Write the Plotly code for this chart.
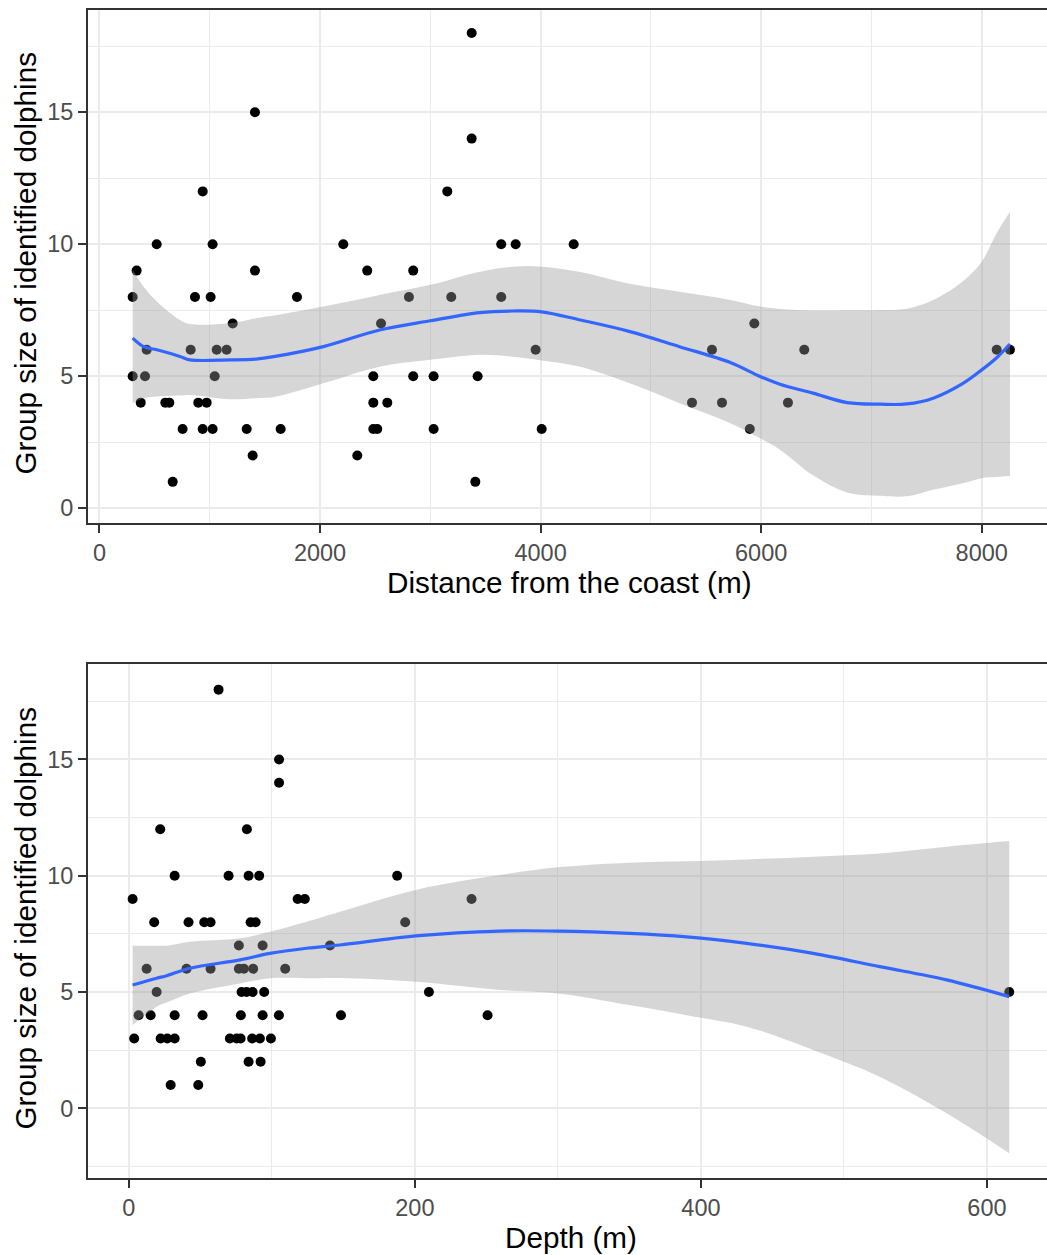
import plotly.graph_objects as go

# ---------------- data ----------------
# Panel 1: distance from the coast (m) vs group size
dist_m = [3375, 1410, 3375, 936, 3154,
          519, 1026, 2211, 3643, 3774, 4300,
          337, 1410, 2428, 2845,
          301, 866, 1008, 1791, 2806, 3190, 3643,
          1208, 2553, 5938,
          428, 827, 1063, 1153, 3955, 5554, 6391, 8136, 8256,
          301, 413, 1045, 2483, 2845, 3030, 3429,
          374, 597, 633, 896, 972, 2483, 2610, 5373, 5645, 6243,
          754, 936, 1026, 1335, 1643, 2483, 2519, 3030, 4010, 5897,
          1389, 2338,
          664, 3408]
dist_size = [18, 15, 14, 12, 12,
             10, 10, 10, 10, 10, 10,
             9, 9, 9, 9,
             8, 8, 8, 8, 8, 8, 8,
             7, 7, 7,
             6, 6, 6, 6, 6, 6, 6, 6, 6,
             5, 5, 5, 5, 5, 5, 5,
             4, 4, 4, 4, 4, 4, 4, 4, 4, 4,
             3, 3, 3, 3, 3, 3, 3, 3, 3, 3,
             2, 2,
             1, 1]

# smoother (fit and 95% band) for panel 1
dist_fit_x = [301, 400, 520, 730, 820, 1180, 1420, 1580, 2030, 2540, 3000, 3450,
              3750, 4010, 4360, 4810, 5260, 5720, 5990, 6170, 6470, 6780, 7080,
              7320, 7560, 7830, 8000, 8136, 8256]
dist_fit = [6.44, 6.12, 6.00, 5.75, 5.62, 5.62, 5.65, 5.74, 6.12, 6.75, 7.10, 7.41,
            7.47, 7.44, 7.13, 6.69, 6.12, 5.52, 4.99, 4.70, 4.36, 4.00, 3.94,
            3.95, 4.17, 4.73, 5.24, 5.70, 6.22]
dist_lo = [3.98, 4.17, 4.23, 4.27, 4.29, 4.13, 4.17, 4.21, 4.73, 5.36, 5.62, 5.81,
           5.74, 5.60, 5.36, 4.73, 3.98, 3.22, 2.65, 2.22, 1.25, 0.60, 0.47,
           0.45, 0.70, 0.95, 1.14, 1.18, 1.22]
dist_hi = [9.03, 8.39, 7.83, 7.13, 6.98, 7.01, 7.20, 7.30, 7.64, 8.08, 8.46, 8.96,
           9.15, 9.15, 8.95, 8.50, 8.20, 7.89, 7.64, 7.55, 7.49, 7.50, 7.51,
           7.56, 7.89, 8.60, 9.34, 10.42, 11.23]

# Panel 2: depth (m) vs group size
depth_m = [62.7, 105, 105, 21.9, 82.5,
           32, 69.7, 83.7, 91.1, 187.6,
           2.6, 118, 123, 239.6,
           17.7, 41.7, 52.7, 57.1, 85.1, 88.6, 193.2,
           76.9, 93.5, 140.6,
           12.4, 40.3, 57.1, 76.9, 80.4, 86.9, 109.3,
           19.4, 78.8, 82.3, 86.5, 94.6, 209.8, 615.6,
           6.8, 15.2, 32, 51.5, 78.3, 93.5, 104.9, 148.3, 250.8,
           3.7, 22.2, 26.8, 32, 70.6, 75.3, 78.1, 86.2, 91.6, 99.3,
           50.3, 83.7, 92.1,
           29.2, 48.5]
depth_size = [18, 15, 14, 12, 12,
              10, 10, 10, 10, 10,
              9, 9, 9, 9,
              8, 8, 8, 8, 8, 8, 8,
              7, 7, 7,
              6, 6, 6, 6, 6, 6, 6,
              5, 5, 5, 5, 5, 5, 5,
              4, 4, 4, 4, 4, 4, 4, 4, 4,
              3, 3, 3, 3, 3, 3, 3, 3, 3, 3,
              2, 2, 2,
              1, 1]

depth_fit_x = [2.6, 19.4, 26.4, 42.7, 77.7, 98.6, 124.3, 147.6, 200.5, 259.4,
               300, 350, 390, 432, 478.5, 525, 571.8, 615.6]
depth_fit = [5.30, 5.59, 5.70, 6.02, 6.38, 6.66, 6.88, 7.02, 7.41, 7.62,
             7.62, 7.52, 7.37, 7.09, 6.66, 6.09, 5.52, 4.80]
depth_lo = [3.58, 4.37, 4.55, 4.94, 5.37, 5.59, 5.59, 5.60, 5.44, 5.09,
            4.94, 4.44, 4.00, 3.51, 2.51, 1.36, -0.21, -1.93]
depth_hi = [6.99, 6.99, 6.99, 7.16, 7.31, 7.59, 8.02, 8.45, 9.39, 10.03,
            10.36, 10.56, 10.62, 10.70, 10.82, 10.96, 11.25, 11.49]

y_title = "Group size of identified dolphins"
x_title_1 = "Distance from the coast (m)"
x_title_2 = "Depth (m)"

# ---------------- figure ----------------
W, H = 1047, 1255
FONT = "Liberation Sans, Arial, sans-serif"


def px_x(p):
    return p / W


def px_y(p):
    return 1 - p / H


fig = go.Figure()

RIBBON = "rgba(153,153,153,0.4)"
BLUE = "#3366FF"


def add_panel(xs, ys, fx, fy, lo, hi, xa, ya):
    fig.add_trace(go.Scatter(x=xs, y=ys, mode="markers", xaxis=xa, yaxis=ya,
                             marker=dict(color="black", size=10, line=dict(width=0)),
                             showlegend=False, hoverinfo="skip"))
    fig.add_trace(go.Scatter(x=fx, y=lo, mode="lines",
                             line=dict(width=0, color="rgba(0,0,0,0)", shape="spline"),
                             xaxis=xa, yaxis=ya, showlegend=False, hoverinfo="skip"))
    fig.add_trace(go.Scatter(x=fx, y=hi, mode="lines", fill="tonexty", fillcolor=RIBBON,
                             line=dict(width=0, color="rgba(0,0,0,0)", shape="spline"),
                             xaxis=xa, yaxis=ya, showlegend=False, hoverinfo="skip"))
    fig.add_trace(go.Scatter(x=fx, y=fy, mode="lines",
                             line=dict(color=BLUE, width=3.2, shape="spline"),
                             xaxis=xa, yaxis=ya, showlegend=False, hoverinfo="skip"))


add_panel(dist_m, dist_size, dist_fit_x, dist_fit, dist_lo, dist_hi, "x", "y")
add_panel(depth_m, depth_size, depth_fit_x, depth_fit, depth_lo, depth_hi, "x2", "y2")

GRID = "#EBEBEB"
BORDER = "#333333"
TICKFONT = dict(family=FONT, size=23.5, color="#4D4D4D")

common_axis = dict(showgrid=True, gridcolor=GRID, gridwidth=1.8, zeroline=False,
                   showline=True, linecolor=BORDER, linewidth=1.8,
                   ticks="outside", ticklen=8, tickwidth=1.8, tickcolor=BORDER,
                   tickfont=TICKFONT, automargin=False, fixedrange=True)

x_dom = [px_x(88), 1.0]

fig.update_layout(
    width=W, height=H,
    margin=dict(l=0, r=0, t=0, b=0),
    paper_bgcolor="white", plot_bgcolor="white",
    font=dict(family=FONT),
    xaxis=dict(domain=x_dom, range=[-104, 8592], anchor="y", tick0=0, dtick=2000,
               minor=dict(dtick=1000, showgrid=True, gridcolor=GRID, gridwidth=1.1, ticks=""),
               mirror=True, **common_axis),
    yaxis=dict(domain=[px_y(523.3), px_y(10)], range=[-0.57, 18.87], anchor="x",
               tick0=0, dtick=5,
               minor=dict(dtick=2.5, showgrid=True, gridcolor=GRID, gridwidth=1.1, ticks=""),
               **common_axis),
    xaxis2=dict(domain=x_dom, range=[-28.6, 642.0], anchor="y2", tick0=0, dtick=200,
                minor=dict(dtick=100, showgrid=True, gridcolor=GRID, gridwidth=1.1, ticks=""),
                mirror=True, **common_axis),
    yaxis2=dict(domain=[px_y(1178.3), px_y(664.3)], range=[-3.01, 19.09], anchor="x2",
                tick0=0, dtick=5,
                minor=dict(dtick=2.5, showgrid=True, gridcolor=GRID, gridwidth=1.1, ticks=""),
                **common_axis),
)

TITLEFONT = dict(family=FONT, size=29.7, color="black")
annotations = [
    dict(text=x_title_1, x=px_x(569.5), y=px_y(582.5)),
    dict(text=x_title_2, x=px_x(571.3), y=px_y(1237.4)),
    dict(text=y_title, x=px_x(24.5), y=px_y(264), textangle=-90),
    dict(text=y_title, x=px_x(24.5), y=px_y(919), textangle=-90),
]
for a in annotations:
    fig.add_annotation(xref="paper", yref="paper", showarrow=False,
                       xanchor="center", yanchor="middle", font=TITLEFONT, **a)

# remove the default page margin so the figure fills the 1047x1255 window exactly
fig.write_html("out.html",
               config={"displayModeBar": False},
               post_script="document.body.style.margin='0';document.body.style.overflow='hidden';")
